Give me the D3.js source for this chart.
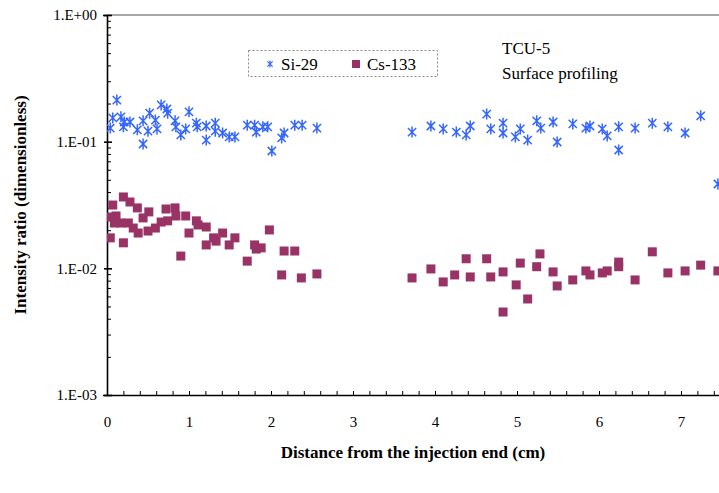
<!DOCTYPE html>
<html>
<head>
<meta charset="utf-8">
<script src="https://cdn.jsdelivr.net/npm/d3@7"></script>
<style>
  html, body { margin: 0; padding: 0; background: #fff; }
  svg { display: block; }
  text { font-family: "Liberation Serif", "Times New Roman", serif; fill: #000; }
</style>
</head>
<body>
<div id="chart"></div>
<script>
// Si-29 intensity ratios along the column
const siX = [0.04,0.07,0.12,0.17,0.20,0.21,0.28,0.37,0.44,0.44,0.50,0.52,0.59,0.61,0.66,0.73,0.74,0.83,0.84,0.90,
             0.96,1.00,1.09,1.10,1.21,1.21,1.32,1.32,1.41,1.49,1.56,1.71,1.80,1.82,1.90,1.96,2.01,2.13,2.16,2.29,2.38,2.56,
             3.72,3.95,4.10,4.26,4.38,4.43,4.63,4.68,4.83,4.83,4.98,5.04,5.13,5.24,5.29,5.44,5.49,5.68,5.84,5.89,
             6.04,6.10,6.24,6.24,6.44,6.65,6.84,7.05,7.24,7.45];
const siY = [0.128,0.154,0.213,0.157,0.131,0.143,0.143,0.124,0.146,0.0958,0.121,0.168,0.148,0.126,0.195,0.181,0.168,0.146,0.131,0.113,
             0.126,0.172,0.140,0.131,0.133,0.103,0.140,0.121,0.117,0.109,0.109,0.135,0.135,0.119,0.131,0.131,0.0844,0.107,0.117,0.135,0.135,0.128,
             0.119,0.133,0.126,0.119,0.113,0.133,0.165,0.126,0.140,0.117,0.109,0.126,0.103,0.146,0.128,0.143,0.0994,0.138,0.128,0.133,
             0.126,0.111,0.131,0.0859,0.128,0.140,0.131,0.117,0.160,0.0463];

// Cs-133 intensity ratios along the column
const csX = [0.04,0.04,0.07,0.11,0.09,0.20,0.20,0.17,0.26,0.28,0.32,0.37,0.38,0.44,0.51,0.50,0.59,0.66,0.72,0.74,
             0.83,0.84,0.90,0.96,1.00,1.09,1.11,1.21,1.21,1.30,1.33,1.41,1.49,1.56,1.71,1.80,1.82,1.88,1.98,2.13,
             2.16,2.29,2.37,2.56,
             3.72,3.95,4.10,4.24,4.38,4.43,4.63,4.68,4.83,4.83,4.99,5.04,5.13,5.24,5.28,5.44,5.49,5.68,5.84,5.89,
             6.04,6.10,6.24,6.24,6.44,6.65,6.84,7.05,7.24,7.45];
const csY = [0.0254,0.0174,0.0316,0.0259,0.0228,0.0366,0.0159,0.0228,0.0228,0.0334,0.0208,0.0300,0.0190,0.0250,0.0279,0.0197,0.0208,0.0232,0.0294,0.0237,
             0.0300,0.0259,0.0125,0.0259,0.0190,0.0237,0.0220,0.0212,0.0153,0.0174,0.0164,0.0190,0.0153,0.0174,0.0114,0.0153,0.0142,0.0145,0.0201,0.00887,
             0.0137,0.0137,0.00840,0.00903,
             0.00840,0.00989,0.00781,0.00887,0.0119,0.00855,0.0119,0.00855,0.00937,0.00452,0.00740,0.0110,0.00573,0.0103,0.0130,0.00937,0.00726,0.00810,0.00954,0.00887,
             0.00920,0.00954,0.0112,0.0103,0.00810,0.0135,0.00920,0.00954,0.0106,0.00954];

const xTicks = [0, 1, 2, 3, 4, 5, 6, 7];
const xTickLabels = ["0", "1", "2", "3", "4", "5", "6", "7"];
const yTicks = [1e-3, 1e-2, 1e-1, 1];
const yTickLabels = ["1.E-03", "1.E-02", "1.E-01", "1.E+00"];
const seriesNames = ["Si-29", "Cs-133"];

const W = 719, H = 493;
const padL = 107, padT = 15, plotR = 722, plotB = 395;
const SERIF = "Liberation Serif";

const svg = d3.select("#chart").append("svg").attr("width", W).attr("height", H);
svg.append("rect").attr("width", W).attr("height", H).attr("fill", "#fff");

const x = d3.scaleLinear().domain([0, 7.5]).range([padL, plotR]);
const y = d3.scaleLog().domain([1e-3, 1]).range([plotB, padT]);

// top gridline
svg.append("line").attr("x1", padL).attr("x2", W).attr("y1", y(1)).attr("y2", y(1))
  .attr("stroke", "#a6a6a6").attr("stroke-width", 2);

// minor ticks on the log axis
const yMinor = [];
[1e-3, 1e-2, 1e-1].forEach(d => { for (let k = 2; k <= 9; k++) yMinor.push(d * k); });
svg.append("g").attr("transform", `translate(${padL},0)`)
  .call(d3.axisRight(y).tickValues(yMinor).tickSize(4).tickFormat(""))
  .call(g => g.select(".domain").remove())
  .call(g => g.selectAll("line").attr("stroke", "#000").attr("stroke-width", 1));

// major y axis
const yAxis = svg.append("g").attr("transform", `translate(${padL},0)`)
  .call(d3.axisLeft(y).tickValues(yTicks).tickSize(4).tickPadding(6)
    .tickFormat((d, i) => yTickLabels[i]));
yAxis.select(".domain").attr("stroke", "#000").attr("stroke-width", 1.6);
yAxis.selectAll(".tick line").attr("stroke", "#000").attr("stroke-width", 1.6).attr("x2", 5).attr("x1", -3);
yAxis.selectAll("text").attr("font-size", 15).attr("font-family", SERIF);

// x axis with minor ticks every 0.2
const xMinor = d3.range(0, 7.51, 0.2).map(v => +v.toFixed(1));
svg.append("g").attr("transform", `translate(0,${plotB})`)
  .call(d3.axisTop(x).tickValues(xMinor).tickSize(4).tickFormat(""))
  .call(g => g.select(".domain").remove())
  .call(g => g.selectAll("line").attr("stroke", "#000").attr("stroke-width", 1));
const xAxis = svg.append("g").attr("transform", `translate(0,${plotB})`)
  .call(d3.axisBottom(x).tickValues(xTicks).tickSize(0).tickPadding(21)
    .tickFormat((d, i) => xTickLabels[i]));
xAxis.select(".domain").attr("stroke", "#000").attr("stroke-width", 1.6);
xAxis.selectAll("text").attr("font-size", 15).attr("font-family", SERIF);

// axis titles
svg.append("text").attr("x", 413).attr("y", plotB + 63).attr("text-anchor", "middle")
  .attr("font-family", SERIF).attr("font-size", 17).attr("font-weight", "bold")
  .text("Distance from the injection end (cm)");
svg.append("text").attr("transform", `translate(26,${(padT + plotB) / 2}) rotate(-90)`)
  .attr("text-anchor", "middle").attr("font-family", SERIF).attr("font-size", 17).attr("font-weight", "bold")
  .text("Intensity ratio (dimensionless)");

// markers, clipped to the plot area
const clip = svg.append("clipPath").attr("id", "plotclip");
clip.append("rect").attr("x", padL).attr("y", padT - 10).attr("width", plotR - padL + 10).attr("height", plotB - padT + 10);
const plot = svg.append("g").attr("clip-path", "url(#plotclip)");

const BLUE = "#3366ff", PLUM = "#993366";
function star(s) {
  const d = s * 0.75;
  return `M0,${-s}L0,${s}M${-d},${-d}L${d},${d}M${-d},${d}L${d},${-d}`;
}

const csData = csX.map((v, i) => ({ x: v, y: csY[i] }));
plot.selectAll("rect.cs").data(csData).join("rect").attr("class", "cs")
  .attr("x", d => x(d.x) - 4.5).attr("y", d => y(d.y) - 4.5)
  .attr("width", 9).attr("height", 9).attr("fill", PLUM);

const siData = siX.map((v, i) => ({ x: v, y: siY[i] }));
plot.selectAll("path.si").data(siData).join("path").attr("class", "si")
  .attr("transform", d => `translate(${x(d.x)},${y(d.y)})`)
  .attr("d", star(5.5)).attr("stroke", BLUE).attr("stroke-width", 1.5).attr("fill", "none");

// legend
const lg = svg.append("g");
lg.append("rect").attr("x", 248.5).attr("y", 50.5).attr("width", 189).attr("height", 26)
  .attr("fill", "#fff").attr("stroke", "#888").attr("stroke-dasharray", "2,2").attr("stroke-width", 1);
lg.append("path").attr("transform", "translate(270,64)").attr("d", star(3.5))
  .attr("stroke", BLUE).attr("stroke-width", 1.2).attr("fill", "none");
lg.append("text").attr("x", 281).attr("y", 69.5).attr("font-family", SERIF).attr("font-size", 17).text(seriesNames[0]);
lg.append("rect").attr("x", 352).attr("y", 60).attr("width", 8).attr("height", 8).attr("fill", PLUM);
lg.append("text").attr("x", 367).attr("y", 69.5).attr("font-family", SERIF).attr("font-size", 17).text(seriesNames[1]);

// annotation
svg.append("text").attr("x", 502).attr("y", 54).attr("font-family", SERIF).attr("font-size", 17).text("TCU-5");
svg.append("text").attr("x", 502).attr("y", 79).attr("font-family", SERIF).attr("font-size", 17).text("Surface profiling");
</script>
</body>
</html>
